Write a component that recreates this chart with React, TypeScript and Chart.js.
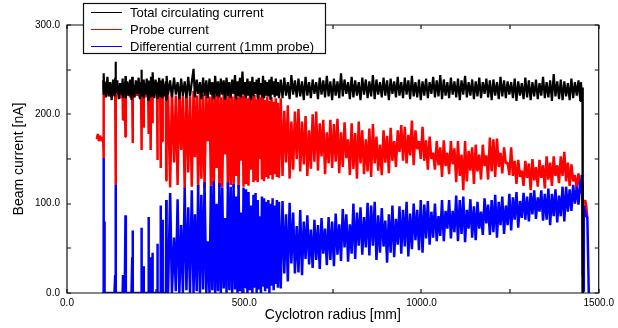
import { useEffect, useRef } from 'react';
import { Chart, registerables } from 'chart.js';

Chart.register(...registerables);

// Cyclotron radius samples [mm]
const radius: number[] = [
  // start / wide turn separation
  84, 87, 90, 93, 96, 99, 102, 103, 104, 105,
  106, 110, 114, 118, 122, 126, 130, 134, 136, 137,
  138, 142, 146, 150, 154, 157, 158, 159, 163, 165,
  166, 170, 174, 178, 182, 184, 185, 186, 190, 194,
  198, 202, 206, 209, 210, 211, 215, 216, 217, 221,
  225, 229, 230, 231, 235, 236, 237, 240, 241, 242,
  246, 250, 254, 255, 256, 260, 263, 264, 265, 268,
  269, 270, 274, 279, 280, 281, 285,
  // separated turns
  291, 296, 302, 307, 312, 317, 322, 327, 332, 337,
  342, 347, 352, 357, 361, 366, 370, 375, 379, 384,
  388, 393, 397, 402, 406, 410, 414, 418, 422, 426,
  430, 434, 438, 442, 446, 450, 454, 458, 462, 466,
  470, 474, 477, 481, 484, 488, 491, 495, 498, 502,
  505, 509, 512, 516, 519, 523, 526, 529, 532, 535,
  538, 541, 544, 547, 550, 553, 556, 559, 562, 565,
  568, 571, 574, 577, 580, 583, 586, 589, 592, 595, 598,
  // overlapping turns
  603, 608, 613, 618, 623, 628, 633, 638, 643, 648,
  653, 658, 663, 668, 673, 678, 683, 688, 693, 698,
  703, 708, 713, 718, 723, 728, 733, 738, 743, 748,
  753, 758, 763, 768, 773, 778, 783, 788, 793, 798,
  803, 808, 813, 818, 823, 828, 833, 838, 843, 848,
  853, 858, 863, 868, 873, 878, 883, 888, 893, 898,
  903, 908, 913, 918, 923, 928, 933, 938, 943, 948,
  953, 958, 963, 968, 973, 978, 983, 988, 993, 998,
  1003, 1008, 1013, 1018, 1023, 1028, 1033, 1038, 1043, 1048,
  1053, 1058, 1063, 1068, 1073, 1078, 1083, 1088, 1093, 1098,
  1103, 1108, 1113, 1118, 1123, 1128, 1133, 1138, 1143, 1148,
  1153, 1158, 1163, 1168, 1173, 1178, 1183, 1188, 1193, 1198,
  1203, 1208, 1213, 1218, 1223, 1228, 1233, 1238, 1243, 1248,
  1253, 1258, 1263, 1268, 1273, 1278, 1283, 1288, 1293, 1298,
  1303, 1308, 1313, 1318, 1323, 1328, 1333, 1338, 1343, 1348,
  1353, 1358, 1363, 1368, 1373, 1378, 1383, 1388, 1393, 1398,
  1403, 1408, 1413, 1418, 1423, 1428, 1433, 1438, 1443, 1448,
  // extraction edge
  1450, 1452, 1454, 1455, 1456, 1458, 1462, 1465, 1468, 1472,
];

// Total circulating current [nA]
const totalCurrent: (number | null)[] = [
  null, null, null, null, null, null, 238, 222, 246, 224,
  237, 219, 242, 221, 236, 216, 239, 220, 241, 259,
  224, 238, 217, 235, 222, 240, 219, 236, 223, 243,
  218, 237, 221, 239, 216, 242, 222, 235, 219, 238,
  223, 241, 217, 236, 250, 220, 239, 218, 237, 222,
  240, 216, 238, 223, 235, 219, 242, 221, 236, 247,
  218, 239, 222, 236, 217, 241, 220, 238, 224, 236,
  219, 240, 221, 237, 216, 243, 222,
  238, 219, 241, 222, 236, 217, 240, 221, 237, 218,
  242, 220, 236, 251, 219, 239, 223, 236, 217, 241,
  221, 238, 218, 240, 222, 236, 217, 243, 220, 237,
  219, 240, 222, 238, 216, 241, 221, 236, 218, 239,
  223, 244, 217, 237, 220, 241, 219, 248, 222, 236,
  218, 240, 221, 237, 216, 242, 220, 236, 223, 239,
  217, 241, 222, 235, 219, 243, 218, 238, 221, 236,
  220, 239, 216, 242, 222, 237, 219, 240, 221, 236, 218,
  239, 218, 241, 221, 236, 217, 244, 222, 238, 219,
  240, 220, 237, 216, 242, 221, 236, 218, 239, 223,
  236, 217, 241, 222, 238, 219, 243, 220, 237, 216,
  240, 221, 237, 218, 246, 220, 239, 223, 236, 217,
  242, 219, 238, 221, 236, 216, 241, 222, 239, 218,
  237, 220, 244, 217, 239, 222, 236, 219, 241, 221,
  238, 216, 240, 223, 237, 219, 242, 221, 236, 218,
  241, 222, 238, 217, 243, 220, 236, 219, 239, 216,
  237, 221, 240, 218, 236, 223, 242, 219, 238, 220,
  244, 217, 239, 221, 236, 218, 241, 222, 237, 219,
  240, 216, 238, 222, 243, 219, 236, 221, 239, 217,
  237, 220, 241, 218, 236, 223, 240, 219, 238, 216,
  239, 221, 236, 217, 242, 220, 238, 218, 237, 222,
  236, 218, 240, 215, 237, 221, 235, 217, 241, 219,
  238, 216, 236, 220, 239, 217, 235, 221, 242, 218,
  236, 219, 238, 215, 245, 220, 237, 217, 239, 216,
  237, 220, 235, 216, 240, 218, 236, 221, 238, 215,
  236, 219, 230, 0, null, null, null, null, null, null,
];

// Probe current [nA]
const probeCurrent: (number | null)[] = [
  172, 178, 170, 176, 173, 170, 174, 151, 233, 226,
  234, 222, 231, 220, 228, 219, 230, 224, 226, 121,
  230, 222, 229, 218, 227, 221, 194, 226, 220, 175,
  229, 221, 228, 219, 226, 221, 168, 228, 219, 227,
  221, 229, 218, 224, 160, 227, 220, 185, 227, 219,
  228, 222, 178, 225, 221, 160, 228, 220, 190, 229,
  222, 227, 219, 149, 228, 220, 226, 140, 229, 222,
  170, 227, 220, 225, 126, 228, 221,
  118, 227, 146, 221, 121, 229, 160, 222, 117, 228,
  135, 220, 119, 226, 152, 221, 116, 228, 128, 222,
  118, 227, 170, 220, 120, 226, 117, 221, 140, 228,
  119, 219, 118, 225, 155, 222, 117, 227, 121, 220,
  118, 226, 131, 219, 117, 224, 148, 221, 119, 226,
  122, 218, 120, 224, 138, 220, 124, 222, 126, 217,
  124, 223, 150, 219, 127, 221, 125, 216, 130, 220,
  128, 215, 132, 219, 127, 214, 133, 218, 130, 213, 129,
  218, 131, 204, 146, 210, 128, 192, 138, 203, 150,
  206, 136, 192, 144, 198, 131, 182, 139, 200, 147,
  203, 137, 190, 153, 194, 133, 180, 145, 194, 140,
  189, 147, 195, 134, 180, 141, 191, 151, 172, 132,
  190, 139, 179, 128, 192, 145, 182, 133, 172, 136,
  184, 130, 189, 145, 175, 137, 166, 132, 182, 146,
  176, 134, 185, 148, 170, 141, 182, 158, 188, 148,
  186, 145, 177, 154, 193, 143, 182, 161, 170, 150,
  186, 148, 171, 138, 175, 150, 157, 138, 170, 143,
  163, 130, 171, 142, 157, 133, 170, 144, 162, 124,
  170, 131, 155, 115, 170, 125, 159, 137, 163, 122,
  166, 136, 155, 127, 166, 142, 154, 127, 174, 136,
  172, 130, 173, 141, 157, 134, 163, 145, 146, 132,
  163, 131, 148, 122, 149, 130, 137, 120, 148, 129,
  145, 115, 150, 126, 141, 119, 149, 129, 143, 117,
  153, 127, 146, 120, 153, 131, 143, 123, 153, 131,
  158, 125, 146, 120, 144, 125, 132, 117, 134, 119,
  128, 110, 118, 20, 104, 100, 104, 97, 84, null,
];

// Differential current (1mm probe) [nA]
const diffCurrent: (number | null)[] = [
  null, null, null, null, null, 0, 0, 151, 0, 80,
  0, 0, 0, 0, 0, 0, 0, 0, 20, 121,
  0, 0, 0, 0, 0, 0, 20, 0, 0, 87,
  0, 0, 0, 0, 0, 40, 70, 0, 0, 0,
  0, 0, 0, 0, 73, 0, 0, 30, 0, 0,
  0, 0, 85, 0, 0, 40, 0, 0, 45, 0,
  0, 0, 0, 55, 0, 0, 0, 98, 0, 0,
  82, 0, 0, 0, 104, 0, 0,
  112, 0, 62, 2, 105, 0, 76, 0, 118, 3,
  96, 0, 115, 0, 88, 2, 121, 0, 110, 4,
  124, 0, 58, 0, 120, 3, 125, 0, 100, 2,
  123, 0, 118, 5, 84, 0, 124, 3, 119, 0,
  122, 4, 108, 0, 121, 2, 90, 0, 118, 5,
  116, 0, 113, 3, 98, 0, 110, 6, 112, 0,
  104, 4, 86, 0, 108, 7, 106, 2, 102, 5,
  104, 0, 100, 8, 106, 3, 98, 10, 104, 6, 102,
  5, 103, 22, 88, 13, 101, 33, 90, 22, 75,
  23, 93, 20, 80, 38, 87, 32, 71, 28, 82,
  37, 76, 27, 84, 44, 72, 31, 85, 37, 80,
  30, 89, 43, 77, 36, 94, 51, 88, 35, 77,
  44, 100, 38, 90, 53, 96, 43, 85, 51, 101,
  42, 98, 53, 102, 37, 87, 45, 95, 52, 81,
  34, 88, 45, 98, 40, 83, 54, 97, 44, 93,
  52, 102, 41, 89, 49, 100, 59, 93, 48, 104,
  45, 99, 61, 103, 54, 91, 62, 100, 58, 86,
  64, 104, 58, 92, 72, 104, 61, 92, 68, 109,
  58, 104, 66, 108, 57, 93, 72, 105, 62, 97,
  59, 102, 72, 91, 65, 106, 78, 99, 65, 104,
  68, 110, 62, 102, 76, 108, 66, 98, 76, 111,
  70, 107, 82, 113, 73, 103, 84, 112, 82, 108,
  80, 112, 88, 115, 83, 107, 91, 115, 81, 111,
  82, 117, 76, 111, 86, 116, 79, 109, 86, 119,
  80, 119, 91, 116, 92, 121, 100, 119, 99, 126,
  112, 132, 120, 0, 2, 98, 90, 86, 84, 0,
];

const seriesLabels = ['Total circulating current', 'Probe current', 'Differential current (1mm probe)'];
const seriesColors = ['#000000', '#ff0000', '#0000ff'];

const xTickValues = [0, 500, 1000, 1500];
const yTickValues = [0, 100, 200, 300];
const xTickMarks = [0, 250, 500, 750, 1000, 1250, 1500];
const yTickMarks = [0, 50, 100, 150, 200, 250, 300];

const FONT = "'Liberation Sans', Arial, Helvetica, sans-serif";

const frameAndLegend = {
  id: 'frameAndLegend',
  afterDraw(chart: any) {
    const { ctx, chartArea } = chart;
    const { left, right, top, bottom } = chartArea;
    const xs = chart.scales.x;
    const ys = chart.scales.y;
    ctx.save();
    ctx.strokeStyle = '#111';
    ctx.lineWidth = 1.2;
    ctx.beginPath();
    ctx.rect(left, top, right - left, bottom - top);
    ctx.stroke();
    ctx.beginPath();
    for (const v of xTickMarks) {
      const p = Math.round(xs.getPixelForValue(v));
      ctx.moveTo(p, bottom);
      ctx.lineTo(p, bottom - 4);
      ctx.moveTo(p, top);
      ctx.lineTo(p, top + 4);
    }
    for (const v of yTickMarks) {
      const p = Math.round(ys.getPixelForValue(v));
      ctx.moveTo(left, p);
      ctx.lineTo(left + 4, p);
      ctx.moveTo(right, p);
      ctx.lineTo(right - 4, p);
    }
    ctx.stroke();

    // legend box
    const lx = 83.5, ly = 3.5, lw = 242, lh = 50;
    ctx.fillStyle = '#ffffff';
    ctx.fillRect(lx, ly, lw, lh);
    ctx.lineWidth = 1.2;
    ctx.strokeStyle = '#111';
    ctx.strokeRect(lx, ly, lw, lh);
    ctx.font = `13px ${FONT}`;
    ctx.textBaseline = 'middle';
    ctx.textAlign = 'left';
    chart.data.datasets.forEach((ds: any, i: number) => {
      const y = 12.5 + i * 17;
      ctx.strokeStyle = ds.borderColor;
      ctx.lineWidth = 1;
      ctx.beginPath();
      ctx.moveTo(91, y);
      ctx.lineTo(122, y);
      ctx.stroke();
      ctx.fillStyle = '#000';
      ctx.fillText(ds.label, 130, y + 0.5);
    });
    ctx.restore();
  },
};

export default function App() {
  const ref = useRef<HTMLCanvasElement>(null);
  useEffect(() => {
    document.body.style.margin = '0';
    const canvas = ref.current!;
    const chart = new Chart(canvas, {
      type: 'line',
      data: {
        labels: radius,
        datasets: [
          { label: seriesLabels[0], data: totalCurrent, borderColor: seriesColors[0], borderWidth: 2.2, pointRadius: 0, order: 0 },
          { label: seriesLabels[1], data: probeCurrent, borderColor: seriesColors[1], borderWidth: 2.5, pointRadius: 0, order: 2 },
          { label: seriesLabels[2], data: diffCurrent, borderColor: seriesColors[2], borderWidth: 2.5, pointRadius: 0, order: 1 },
        ],
      },
      options: {
        animation: false,
        responsive: false,
        devicePixelRatio: 1,
        spanGaps: false,
        layout: { padding: { left: 0, right: 16, top: 25, bottom: 0 } },
        plugins: { legend: { display: false }, tooltip: { enabled: false } },
        elements: { line: { tension: 0, borderJoinStyle: 'bevel' } },
        scales: {
          x: {
            type: 'linear',
            min: 0,
            max: 1500,
            afterBuildTicks: (s: any) => { s.ticks = xTickValues.map((value) => ({ value })); },
            afterFit: (s: any) => { s.height = 35; },
            grid: { display: false, drawTicks: false },
            border: { display: false },
            ticks: {
              padding: 4,
              color: '#000',
              autoSkip: false,
              maxRotation: 0,
              font: { size: 10, family: FONT },
              callback: (v: any) => Number(v).toFixed(1),
            },
            title: {
              display: true,
              text: 'Cyclotron radius [mm]',
              color: '#000',
              font: { size: 14, family: FONT },
              padding: { top: 0, bottom: 4 },
            },
          },
          y: {
            type: 'linear',
            min: 0,
            max: 300,
            afterBuildTicks: (s: any) => { s.ticks = yTickValues.map((value) => ({ value })); },
            afterFit: (s: any) => { s.width = 67; },
            grid: { display: false, drawTicks: false },
            border: { display: false },
            ticks: {
              padding: 7,
              color: '#000',
              font: { size: 10, family: FONT },
              callback: (v: any) => Number(v).toFixed(1),
            },
            title: {
              display: true,
              text: 'Beam current [nA]',
              color: '#000',
              font: { size: 14, family: FONT },
              padding: { top: 11, bottom: 0 },
            },
          },
        },
      },
      plugins: [frameAndLegend],
    } as any);
    return () => chart.destroy();
  }, []);
  return (
    <canvas ref={ref} width={618} height={328} style={{ display: 'block', width: 618, height: 328 }} />
  );
}
